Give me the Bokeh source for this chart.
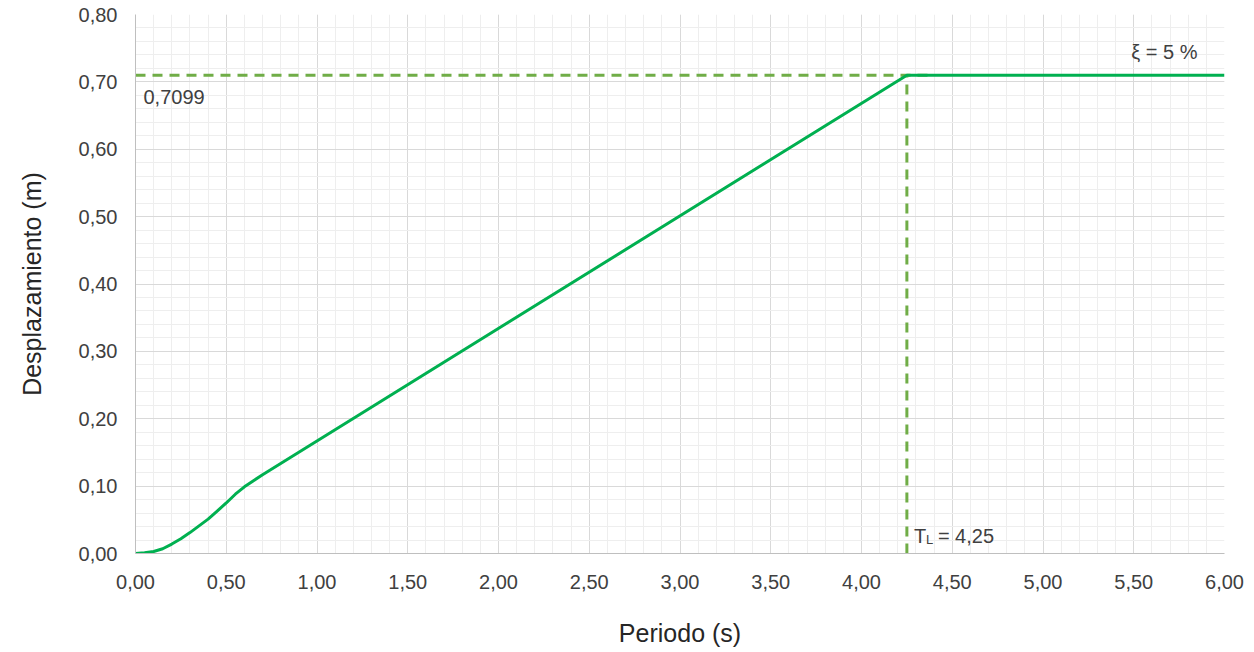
from bokeh.plotting import figure
from bokeh.models import Range1d, SingleIntervalTicker, CustomJSTickFormatter, Label
from bokeh.embed import file_html
from bokeh.resources import INLINE

# Data
periodo = [0.00, 0.05, 0.10, 0.15, 0.20, 0.25, 0.30, 0.35, 0.40, 0.45, 0.50, 0.55, 0.60, 0.65, 0.70, 4.25, 6.00]
desplaz = [0.000, 0.001, 0.003, 0.007, 0.014, 0.022, 0.031, 0.041, 0.051, 0.063, 0.075, 0.088, 0.099, 0.108, 0.117, 0.7099, 0.7099]
T_L = 4.25
Sd_max = 0.7099
label_sd = "0,7099"
label_tl = "= 4,25"
label_xi = "ξ = 5 %"

FONT = "Liberation Sans"
TXT = "#404040"

p = figure(frame_width=1089, frame_height=539, output_backend="svg", toolbar_location=None,
           x_range=Range1d(0, 6), y_range=Range1d(0, 0.8))
p.min_border_left = 135
p.min_border_right = 30
p.min_border_top = 14
p.min_border_bottom = 99
p.outline_line_color = None
p.background_fill_color = "white"

fmt = CustomJSTickFormatter(code="return tick.toFixed(2).replace('.', ',');")

xt = SingleIntervalTicker(interval=0.5, num_minor_ticks=5)
yt = SingleIntervalTicker(interval=0.1, num_minor_ticks=5)
p.xaxis.ticker = xt
p.yaxis.ticker = yt
p.xgrid.ticker = xt
p.ygrid.ticker = yt
for g in (p.xgrid, p.ygrid):
    g.grid_line_color = "#d9d9d9"
    g.grid_line_width = 1
    g.minor_grid_line_color = "#eeeeee"
    g.minor_grid_line_width = 1

for ax in (p.xaxis, p.yaxis):
    ax.formatter = fmt
    ax.axis_line_color = "#bfbfbf"
    ax.axis_line_width = 1
    ax.major_tick_line_color = None
    ax.minor_tick_line_color = None
    ax.major_label_text_font = FONT
    ax.major_label_text_font_size = "20px"
    ax.major_label_text_color = TXT
    ax.axis_label_text_font = FONT
    ax.axis_label_text_font_size = "25px"
    ax.axis_label_text_font_style = "normal"
    ax.axis_label_text_color = "#262626"

p.xaxis.axis_label = "Periodo (s)"
p.yaxis.axis_label = "Desplazamiento (m)"
p.yaxis.major_label_standoff = 12
p.xaxis.major_label_standoff = 15
p.yaxis.axis_label_standoff = 30
p.xaxis.axis_label_standoff = 27

# Dashed reference lines
p.line([0, T_L + 0.15], [Sd_max, Sd_max], line_color="#70ad47", line_width=3, line_dash="10 7")
p.line([T_L, T_L], [0, Sd_max], line_color="#70ad47", line_width=3, line_dash="10 7")

# Main curve
p.line(periodo, desplaz, line_color="#00b050", line_width=3, line_join="round")

# Annotations
p.add_layout(Label(x=0, y=Sd_max, x_offset=8, y_offset=-22, text=label_sd, text_font=FONT,
                   text_font_size="20px", text_color=TXT, text_baseline="middle"))
p.add_layout(Label(x=T_L, y=0, x_offset=7, y_offset=18, text="T", text_font=FONT,
                   text_font_size="20px", text_color=TXT, text_baseline="middle"))
p.add_layout(Label(x=T_L, y=0, x_offset=19, y_offset=14, text="L", text_font=FONT,
                   text_font_size="13px", text_color=TXT, text_baseline="middle"))
p.add_layout(Label(x=T_L, y=0, x_offset=31, y_offset=18, text=label_tl, text_font=FONT,
                   text_font_size="20px", text_color=TXT, text_baseline="middle"))
p.add_layout(Label(x=6, y=Sd_max, x_offset=-27, y_offset=23, text=label_xi, text_font=FONT,
                   text_font_size="20px", text_color=TXT, text_baseline="middle", text_align="right"))

open("out.html", "w").write(file_html(p, INLINE))
